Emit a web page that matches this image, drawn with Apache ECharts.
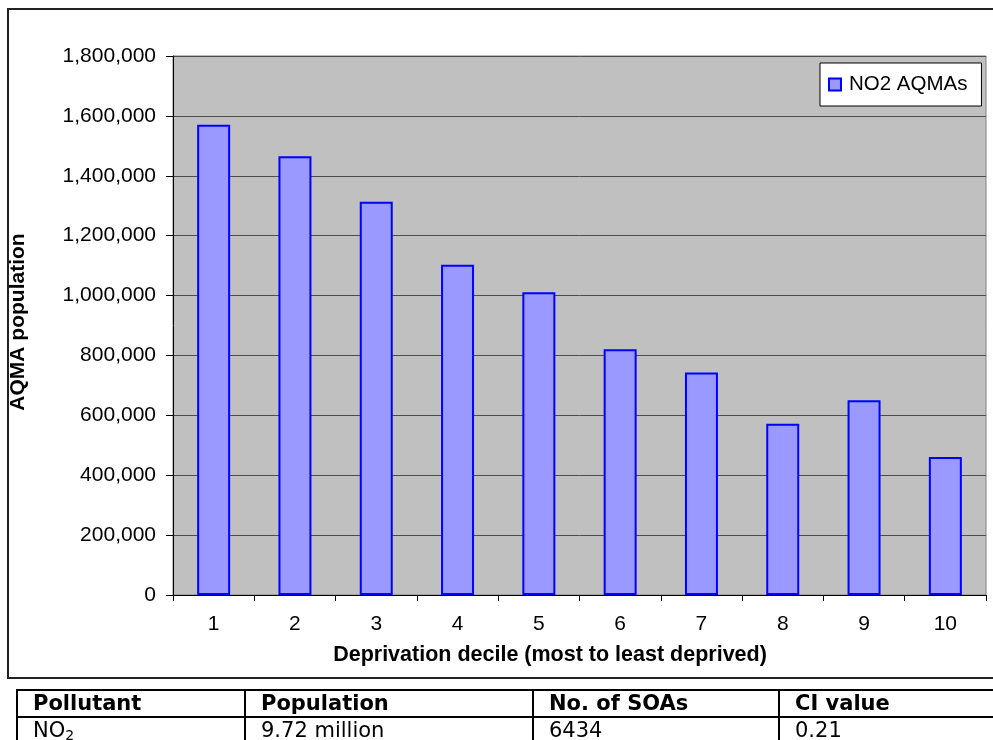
<!DOCTYPE html>
<html>
<head>
<meta charset="utf-8">
<script src="https://cdn.jsdelivr.net/npm/echarts@6/dist/echarts.min.js"></script>
<style>
html,body{margin:0;padding:0;background:#fff;overflow:hidden;}
#chart{position:absolute;left:0;top:0;width:993px;height:740px;}
#tbl{position:absolute;left:16px;top:689px;border-collapse:collapse;font-family:"DejaVu Sans",sans-serif;font-size:21px;color:#000;}
#tbl td{border:2px solid #000;padding:0 0 0 15px;height:25px;line-height:25px;white-space:nowrap;}
#tbl tr:first-child td{font-weight:bold;}
sub{font-size:14px;vertical-align:-3px;line-height:0;}
</style>
</head>
<body>
<div id="chart"></div>
<table id="tbl"></table>
<script>
const categories = ['1','2','3','4','5','6','7','8','9','10'];
const no2Population = [1570000, 1465000, 1313000, 1103000, 1011000, 821000, 743000, 572000, 650000, 461000];
const seriesName = 'NO2 AQMAs';
const yTitle = 'AQMA population';
const xTitle = 'Deprivation decile (most to least deprived)';
const tableHeader = ['Pollutant', 'Population', 'No. of SOAs', 'CI value'];
const tableRow = ['NO<sub>2</sub>', '9.72 million', '6434', '0.21'];
const colWidths = [211, 271, 229, 220];

const tbl = document.getElementById('tbl');
[tableHeader, tableRow].forEach(function(row){
  const tr = document.createElement('tr');
  row.forEach(function(c, i){
    const td = document.createElement('td');
    td.innerHTML = c;
    td.style.width = colWidths[i] + 'px';
    td.style.minWidth = colWidths[i] + 'px';
    tr.appendChild(td);
  });
  tbl.appendChild(tr);
});

const chart = echarts.init(document.getElementById('chart'), null, {renderer:'canvas'});
const font = '"Liberation Sans", Arial, sans-serif';
chart.setOption({
  animation:false,
  backgroundColor:'#ffffff',
  textStyle:{fontFamily:font},
  grid:{left:173, top:56, right:7, bottom:145, show:true, backgroundColor:'#c0c0c0', borderColor:'#808080', borderWidth:1},
  legend:{
    left:820, top:63,
    data:[seriesName],
    icon:'rect', itemWidth:12, itemHeight:12,
    backgroundColor:'#ffffff', borderColor:'#000000', borderWidth:1,
    padding:[11,14,11,8],
    textStyle:{fontFamily:font, fontSize:20.5, color:'#000', padding:[0,0,0,3]}
  },
  graphic:[
    {type:'rect', shape:{x:8, y:9, width:1000, height:669}, style:{fill:'none', stroke:'#222', lineWidth:2}, silent:true, z:-1},
    {type:'text', x:18, y:322, rotation:Math.PI/2, style:{text:yTitle, font:'bold 21px "Liberation Sans", Arial, sans-serif', fill:'#000', textAlign:'center', textVerticalAlign:'middle'}},
    {type:'text', x:550, y:655, style:{text:xTitle, font:'bold 21.5px "Liberation Sans", Arial, sans-serif', fill:'#000', textAlign:'center', textVerticalAlign:'middle'}}
  ],
  xAxis:{
    type:'category', data:categories, boundaryGap:true,
    axisLine:{show:true, lineStyle:{color:'#000', width:1}},
    axisTick:{show:true, interval:0, length:6, lineStyle:{color:'#000'}},
    axisLabel:{fontSize:21, color:'#000', margin:19, fontFamily:font},
    splitLine:{show:false}
  },
  yAxis:{
    type:'value', min:0, max:1800000, interval:200000,
    axisLine:{show:true, lineStyle:{color:'#000', width:1}},
    axisTick:{show:true, length:7, lineStyle:{color:'#000'}},
    axisLabel:{fontSize:21, color:'#000', margin:17, fontFamily:font,
      formatter:function(v){return v.toLocaleString('en-US');}},
    splitLine:{show:true, lineStyle:{color:'#4d4d4d', width:1}}
  },
  series:[{
    name:seriesName, type:'bar', data:no2Population, barWidth:33,
    itemStyle:{color:'#9999ff', borderColor:'#0000ff', borderWidth:2}
  }]
});
</script>
</body>
</html>
